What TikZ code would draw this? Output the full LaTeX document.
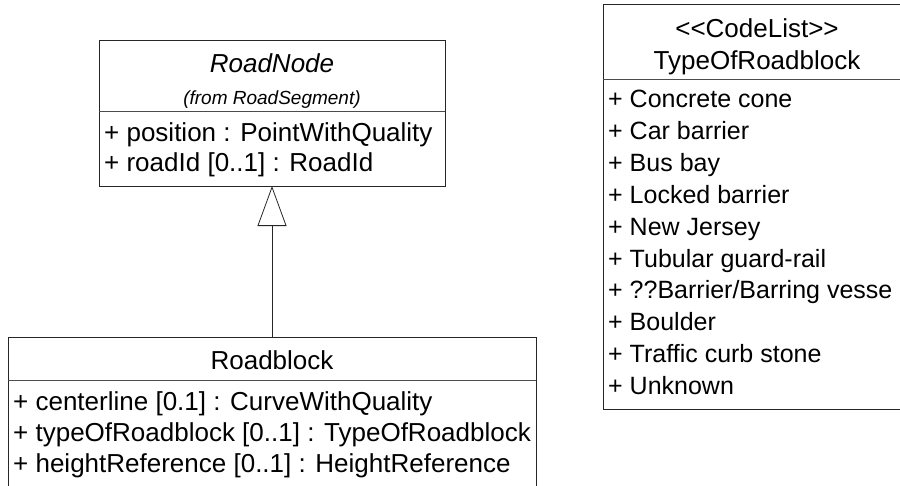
\documentclass[tikz,border=0pt]{standalone}
\usepackage{fontspec}
\setmainfont{Liberation Sans}
\usetikzlibrary{arrows.meta}
\begin{document}
\begin{tikzpicture}[x=1pt,y=-1pt,
  umlbox/.style={draw=black!85, line width=1pt, fill=white, inner sep=0pt, outer sep=0pt, anchor=north west},
  sepline/.style={draw=black!70, line width=1pt},
  attr/.style={anchor=base west, inner sep=0pt, font=\fontsize{26}{30}\selectfont},
  lit/.style={anchor=base west, inner sep=0pt, font=\fontsize{25}{30}\selectfont},
  ttl/.style={anchor=base, inner sep=0pt, font=\fontsize{26}{30}\selectfont},
  ttlit/.style={anchor=base, inner sep=0pt, font=\fontsize{26}{30}\selectfont\itshape},
  fromtxt/.style={anchor=base, inner sep=0pt, font=\fontsize{19}{22}\selectfont\itshape},
  generalization/.style={draw=black!85, line width=0.8pt, -{Triangle[open, length=40pt, width=29pt, line width=0.8pt]}}
]
\useasboundingbox (0,0) rectangle (900,485);
\clip (0,0) rectangle (900,485);

% RoadNode
\node[umlbox, minimum width=346pt, minimum height=146pt] (rn) at (99,40) {};
\draw[sepline] (99,111) -- (445,111);
\node[ttlit] (rnname) at (272,72) {RoadNode};
\node[fromtxt] (rnfrom) at (272,104) {(from RoadSegment)};
\node[attr] (rna1) at (104,141) {+ position : PointWithQuality};
\node[attr] (rna2) at (104,171) {+ roadId [0..1] : RoadId};

% Roadblock
\node[umlbox, minimum width=528pt, minimum height=170pt] (rb) at (8,337) {};
\draw[sepline] (8,380) -- (536,380);
\node[ttl] (rbname) at (272,369) {Roadblock};
\node[attr] (rba1) at (13,410) {+ centerline [0.1] : CurveWithQuality};
\node[attr] (rba2) at (13,441) {+ typeOfRoadblock [0..1] : TypeOfRoadblock};
\node[attr] (rba3) at (13,472) {+ heightReference [0..1] : HeightReference};

% TypeOfRoadblock
\node[umlbox, minimum width=308pt, minimum height=405pt] (tr) at (603,4) {};
\draw[sepline] (603,79) -- (911,79);
\node[ttl] (trst) at (757,37) {<\kern0pt<CodeList>\kern0pt>};
\node[ttl] (trname) at (757,69) {TypeOfRoadblock};
\node[lit] (t1) at (608,107) {+ Concrete cone};
\node[lit] (t2) at (608,139) {+ Car barrier};
\node[lit] (t3) at (608,171) {+ Bus bay};
\node[lit] (t4) at (608,203) {+ Locked barrier};
\node[lit] (t5) at (608,235) {+ New Jersey};
\node[lit] (t6) at (608,267) {+ Tubular guard-rail};
\node[lit] (t7) at (608,298) {+ ??Barrier/Barring vesse};
\node[lit] (t8) at (608,330) {+ Boulder};
\node[lit] (t9) at (608,362) {+ Traffic curb stone};
\node[lit] (t10) at (608,394) {+ Unknown};

% generalization
\draw[generalization] (rb.north) -- (rn.south);
\end{tikzpicture}
\end{document}
